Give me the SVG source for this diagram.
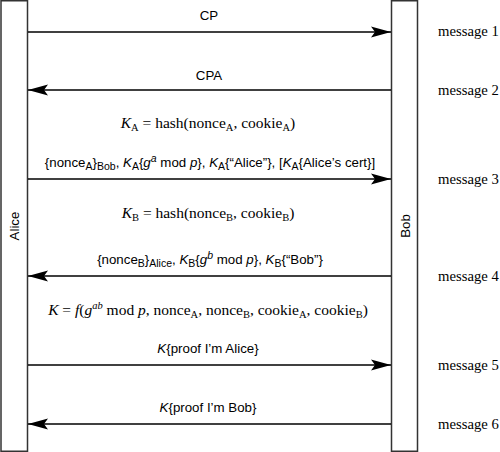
<svg xmlns="http://www.w3.org/2000/svg" width="500" height="452" viewBox="0 0 500 452">
<style>
.box{fill:#fff;stroke:#333;stroke-width:1.5}
.ln{stroke:#000;stroke-width:1.3;fill:none}
.s{font-family:"Liberation Sans",Arial,sans-serif;font-size:13.3px;fill:#000}
.r{font-family:"Liberation Serif","Times New Roman",serif;font-size:15.5px;fill:#000}
.m{font-family:"Liberation Serif","Times New Roman",serif;font-size:14.7px;fill:#000}
.sub{font-size:10.5px}
.i{font-style:italic}
</style>
<defs>
<marker id="ah" markerWidth="21" markerHeight="12" refX="20" refY="6" orient="auto" markerUnits="userSpaceOnUse">
<path d="M0,0.5 L20,6 L0,11.5 L4,6 Z" fill="#000"/>
</marker>
</defs>
<g id="alice">
<rect class="box" x="1" y="0.75" width="26.5" height="450.5"/>
<text class="s" transform="translate(19,226) rotate(-90)" text-anchor="middle">Alice</text>
</g>
<g id="bob">
<rect class="box" x="391.5" y="0.75" width="26" height="450.5"/>
<text class="s" transform="translate(409.5,226) rotate(-90)" text-anchor="middle">Bob</text>
</g>
<g id="connectors">
<line class="ln" x1="28" y1="32" x2="391" y2="32" marker-end="url(#ah)"/>
<line class="ln" x1="391" y1="90" x2="28" y2="90" marker-end="url(#ah)"/>
<line class="ln" x1="28" y1="179" x2="391" y2="179" marker-end="url(#ah)"/>
<line class="ln" x1="391" y1="276" x2="28" y2="276" marker-end="url(#ah)"/>
<line class="ln" x1="28" y1="365" x2="391" y2="365" marker-end="url(#ah)"/>
<line class="ln" x1="391" y1="424" x2="28" y2="424" marker-end="url(#ah)"/>
</g>
<g id="labels">
<text class="s" x="209" y="20" text-anchor="middle">CP</text>
<text class="s" x="209" y="80" text-anchor="middle">CPA</text>
<text class="r" x="208" y="128" text-anchor="middle"><tspan class="i">K</tspan><tspan class="sub" dy="3">A</tspan><tspan dy="-3"> = hash(nonce</tspan><tspan class="sub" dy="3">A</tspan><tspan dy="-3">, cookie</tspan><tspan class="sub" dy="3">A</tspan><tspan dy="-3">)</tspan></text>
<text class="s" x="210" y="167" text-anchor="middle">{nonce<tspan class="sub" dy="3">A</tspan><tspan dy="-3">}</tspan><tspan class="sub" dy="3">Bob</tspan><tspan dy="-3">, </tspan><tspan class="i">K</tspan><tspan class="sub" dy="3">A</tspan><tspan dy="-3">{</tspan><tspan class="i">g</tspan><tspan class="sub i" dy="-5">a</tspan><tspan dy="5"> mod </tspan><tspan class="i">p</tspan>}, <tspan class="i">K</tspan><tspan class="sub" dy="3">A</tspan><tspan dy="-3">{“Alice”}, [</tspan><tspan class="i">K</tspan><tspan class="sub" dy="3">A</tspan><tspan dy="-3">{Alice’s cert}]</tspan></text>
<text class="r" x="208" y="218" text-anchor="middle"><tspan class="i">K</tspan><tspan class="sub" dy="3">B</tspan><tspan dy="-3"> = hash(nonce</tspan><tspan class="sub" dy="3">B</tspan><tspan dy="-3">, cookie</tspan><tspan class="sub" dy="3">B</tspan><tspan dy="-3">)</tspan></text>
<text class="s" x="210" y="264" text-anchor="middle">{nonce<tspan class="sub" dy="3">B</tspan><tspan dy="-3">}</tspan><tspan class="sub" dy="3">Alice</tspan><tspan dy="-3">, </tspan><tspan class="i">K</tspan><tspan class="sub" dy="3">B</tspan><tspan dy="-3">{</tspan><tspan class="i">g</tspan><tspan class="sub i" dy="-5">b</tspan><tspan dy="5"> mod </tspan><tspan class="i">p</tspan>}, <tspan class="i">K</tspan><tspan class="sub" dy="3">B</tspan><tspan dy="-3">{“Bob”}</tspan></text>
<text class="r" x="208" y="315" text-anchor="middle"><tspan class="i">K</tspan> = <tspan class="i">f</tspan>(<tspan class="i">g</tspan><tspan class="sub i" dy="-6">ab</tspan><tspan dy="6"> mod </tspan><tspan class="i">p</tspan>, nonce<tspan class="sub" dy="3">A</tspan><tspan dy="-3">, nonce</tspan><tspan class="sub" dy="3">B</tspan><tspan dy="-3">, cookie</tspan><tspan class="sub" dy="3">A</tspan><tspan dy="-3">, cookie</tspan><tspan class="sub" dy="3">B</tspan><tspan dy="-3">)</tspan></text>
<text class="s" x="208" y="353" text-anchor="middle"><tspan class="i">K</tspan>{proof I’m Alice}</text>
<text class="s" x="208" y="412" text-anchor="middle"><tspan class="i">K</tspan>{proof I’m Bob}</text>
<text class="m" x="438" y="36">message 1</text>
<text class="m" x="438" y="95">message 2</text>
<text class="m" x="438" y="184">message 3</text>
<text class="m" x="438" y="281">message 4</text>
<text class="m" x="438" y="370">message 5</text>
<text class="m" x="438" y="429">message 6</text>
</g>
</svg>
